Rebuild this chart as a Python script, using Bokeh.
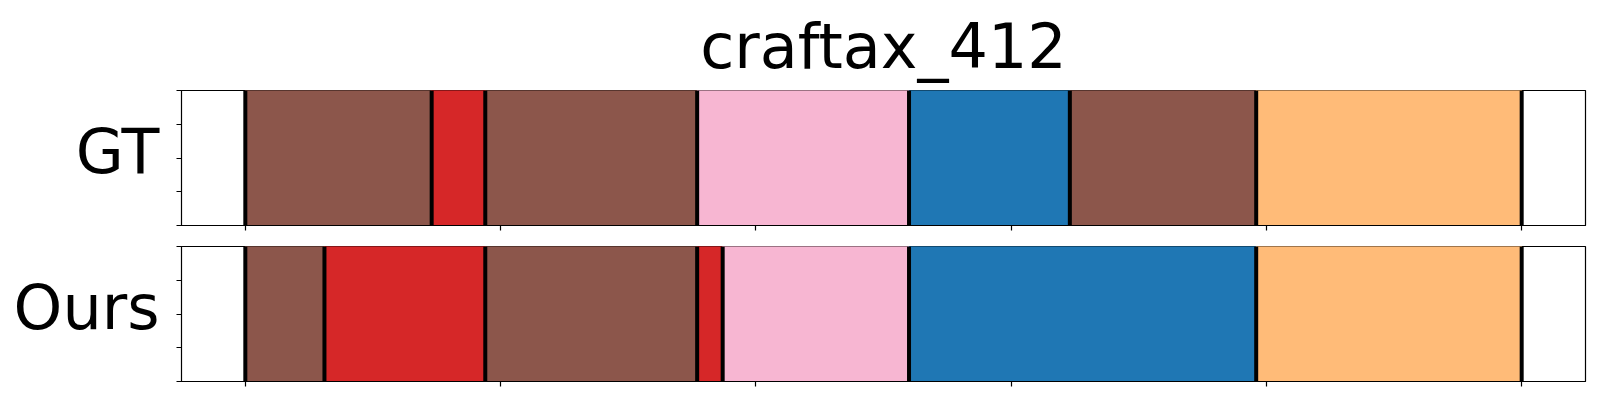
from bokeh.plotting import figure
from bokeh.models import Range1d, FixedTicker, ColumnDataSource, LinearAxis
from bokeh.layouts import column
from bokeh.embed import file_html
from bokeh.resources import INLINE

# ---------------- data ----------------
title_text = "craftax_412"
row_names = ["GT", "Ours"]
x_ticks = [0, 100, 200, 300, 400, 500]
y_ticks = [0, 0.25, 0.5, 0.75, 1.0]
n_frames = 500

gt_edges = [0, 73, 94, 177, 260, 323, 396, 500]
gt_classes = ["c5", "c3", "c5", "c13", "c0", "c5", "c2"]

ours_edges = [0, 31, 94, 177, 187, 260, 396, 500]
ours_classes = ["c5", "c3", "c5", "c3", "c13", "c0", "c2"]

class_colors = {
    "c0": "#1f77b4",
    "c2": "#ffbb78",
    "c3": "#d62728",
    "c5": "#8c564b",
    "c13": "#f7b6d2",
}

FONT = "DejaVu Sans"
LEFT = 181
FRAME_W = 1404
FRAME_H = 135
LABEL_Y = 0.55   # vertical anchor of the row name, in panel units


def make_panel(edges, classes, label, with_title):
    x0 = -0.05 * n_frames
    x1 = 1.05 * n_frames
    p = figure(
        output_backend="svg",
        toolbar_location=None,
        x_range=Range1d(x0, x1),
        y_range=Range1d(0, 1),
        frame_width=FRAME_W,
        frame_height=FRAME_H,
        min_border_left=LEFT,
        min_border_right=8,
        min_border_top=87 if with_title else 11,
        min_border_bottom=10,
        background_fill_color="white",
        border_fill_color="white",
    )
    src = ColumnDataSource(dict(
        left=edges[:-1],
        right=edges[1:],
        color=[class_colors[c] for c in classes],
    ))
    p.quad(left="left", right="right", bottom=0, top=1, fill_color="color",
           line_color="color", line_width=1, source=src)
    p.segment(x0=edges, y0=[0] * len(edges), x1=edges, y1=[1] * len(edges),
              line_color="black", line_width=4)

    if with_title:
        p.title.text = title_text
        p.title.align = "center"
        p.title.text_font = FONT
        p.title.text_font_size = "62px"
        p.title.text_font_style = "normal"
        p.title.text_color = "black"
        p.title.standoff = 15
    else:
        p.title = None

    p.xgrid.visible = False
    p.ygrid.visible = False
    p.outline_line_color = "black"
    p.outline_line_width = 1.2

    for ax in (p.xaxis, p.yaxis):
        ax.major_label_text_font_size = "1px"
        ax.major_label_text_color = None
        ax.major_label_standoff = 0
        ax.major_tick_out = 5
        ax.major_tick_in = 0
        ax.minor_tick_out = 0
        ax.minor_tick_in = 0
        ax.axis_line_color = "black"
        ax.major_tick_line_color = "black"
        ax.major_tick_line_width = 1.2
    p.xaxis.ticker = FixedTicker(ticks=x_ticks)
    p.yaxis.ticker = FixedTicker(ticks=y_ticks)

    # row name drawn as the single tick label of an outer, tick-less axis
    name_axis = LinearAxis(
        ticker=FixedTicker(ticks=[LABEL_Y], minor_ticks=[]),
        major_label_overrides={LABEL_Y: label},
        major_label_text_font=FONT,
        major_label_text_font_size="62px",
        major_label_text_color="black",
        major_label_standoff=17,
        major_label_orientation="horizontal",
        major_tick_out=0,
        major_tick_in=0,
        minor_tick_out=0,
        minor_tick_in=0,
        axis_line_color=None,
    )
    p.add_layout(name_axis, "left")
    return p


top = make_panel(gt_edges, gt_classes, row_names[0], True)
bottom = make_panel(ours_edges, ours_classes, row_names[1], False)

layout = column(top, bottom, spacing=0)
open("out.html", "w").write(file_html(layout, INLINE))
